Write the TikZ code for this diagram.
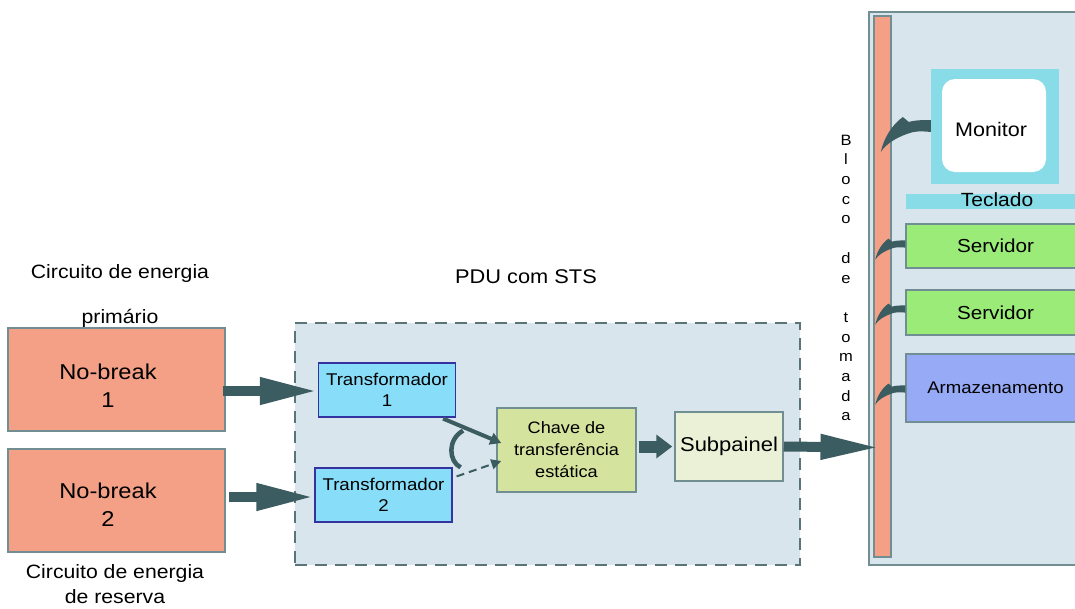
\documentclass[tikz,border=0pt]{standalone}
\usepackage{fontspec}
\setmainfont{Liberation Sans}[FakeStretch=1.1]
\usetikzlibrary{arrows.meta,calc}

\definecolor{salmon}{HTML}{F4A086}
\definecolor{panel}{HTML}{D9E5EC}
\definecolor{edge}{HTML}{718F93}
\definecolor{dashc}{HTML}{5A7477}
\definecolor{trafo}{HTML}{88DDF9}
\definecolor{trafoedge}{HTML}{3434A0}
\definecolor{switchc}{HTML}{D4E39E}
\definecolor{subc}{HTML}{EBF1D6}
\definecolor{arrowc}{HTML}{3B5C60}
\definecolor{screen}{HTML}{88DCE8}
\definecolor{server}{HTML}{9AEB78}
\definecolor{storage}{HTML}{96AAF5}

\newcommand{\fsz}[1]{\fontsize{#1}{1.2\dimexpr#1pt\relax}\selectfont}

\tikzset{
  ups/.style={draw=edge, fill=salmon, line width=1.5, minimum width=217, minimum height=103, inner sep=0},
  trafobox/.style={draw=trafoedge, fill=trafo, line width=1.2, minimum width=137, minimum height=54,
    inner sep=0, align=center, font=\fontsize{17}{21}\selectfont},
  device/.style={draw=edge, line width=1.5, minimum width=179, inner sep=0, align=center},
  label/.style={inner sep=0, align=center},
  bigarrow/.style={draw=arrowc, line width=10},
  pics/swoosh/.style={code={
    \fill[arrowc] (-28,-9) -- (-22,-4) .. controls (-16,-6) and (-6,-6) .. (0,-6)
      -- (0,6) .. controls (-9,5) and (-17,5) .. (-24,8)
      .. controls (-35,12) and (-45,18) .. (-50,26)
      .. controls (-47,12) and (-39,-1) .. (-28,-9) -- cycle;
  }}
}

\begin{document}
\begin{tikzpicture}[x=1pt, y=-1pt]
\useasboundingbox (0,0) rectangle (1075,608);
\clip (0,0) rectangle (1075,608);
\fill[white] (0,0) rectangle (1075,608);

% power sources
\node[ups] (nb1) at (116.5,379.5) {};
\node[ups] (nb2) at (116.5,500.5) {};
\node[label, font=\fontsize{21.5}{28}\selectfont] (nb1lbl) at (108,386) {No-break\\1};
\node[label, font=\fontsize{21.5}{28}\selectfont] (nb2lbl) at (108,505) {No-break\\2};
\node[label, font=\fsz{19.3}] (cap1a) at (120,274) {Circuito de energia};
\node[label, font=\fsz{19.3}] (cap1b) at (120,318) {primário};
\node[label, font=\fontsize{19.3}{25}\selectfont] (cap2) at (115,584) {Circuito de energia\\de reserva};

% PDU with static transfer switch
\node[draw=dashc, fill=panel, line width=1.8, dash pattern=on 12pt off 8pt,
      minimum width=505, minimum height=242, inner sep=0] (pdu) at (547.5,444) {};
\node[label, font=\fsz{19.8}] (pdulbl) at (526,277) {PDU com STS};

\node[trafobox] (t1) at (387,390) {Transformador\\1};
\node[trafobox] (t2) at (383.5,495) {Transformador\\2};
\node[draw=edge, fill=switchc, line width=1.5, minimum width=139, minimum height=84, inner sep=0,
      align=center, font=\fontsize{16.5}{22}\selectfont] (ch) at (566.5,450)
      {Chave de\\transferência\\estática};
\node[draw=edge, fill=subc, line width=1.5, minimum width=108, minimum height=69, inner sep=0,
      font=\fsz{20}] (sub) at (729,446.5) {Subpainel};

% rack
\node[draw=edge, fill=panel, line width=2, minimum width=216, minimum height=553, inner sep=0] (rack) at (977,288.5) {};
\node[draw=edge, fill=salmon, line width=1.5, minimum width=17, minimum height=541, inner sep=0] (strip) at (882.5,286.5) {};
\node[label, font=\fontsize{15}{19.7}\selectfont] (bloco) at (846,278)
  {B\\l\\o\\c\\o\\[19.7pt]d\\e\\[19.7pt]t\\o\\m\\a\\d\\a};

\node[fill=screen, minimum width=128, minimum height=115, inner sep=0] (mon) at (995,126.5) {};
\node[fill=white, rounded corners=13, minimum width=104, minimum height=93, inner sep=0] (scr) at (994,125.5) {};
\node[label, font=\fsz{19.6}] (monlbl) at (991,129) {Monitor};
\node[fill=screen, minimum width=179, minimum height=15, inner sep=0] (kbd) at (995.5,201.5) {};
\node[label, font=\fsz{19.1}] (kbdlbl) at (997,200) {Teclado};
\node[device, fill=server, minimum height=44, font=\fsz{18.8}] (srv1) at (995.5,246) {Servidor};
\node[device, fill=server, minimum height=45, font=\fsz{18.8}] (srv2) at (995.5,312.5) {Servidor};
\node[device, fill=storage, minimum height=68, font=\fsz{16.9}] (arm) at (995.5,388) {Armazenamento};

% power feeds into the PDU
\draw[bigarrow, -{Triangle[width=25pt,length=58pt]}] ($(nb1.east |- t1.west)+(-3,1)$) -- ($(t1.west)+(0,1)$);
\draw[bigarrow, -{Triangle[width=25pt,length=58pt]}] ($(nb2.east |- t2.west)+(3,2)$) -- ($(t2.west)+(0,2)$);

% transformers to the transfer switch
\draw[arrowc, line width=4, -{Triangle[width=12pt,length=11pt]}] ($(t1.south east)+(-13,1)$) -- ($(ch.west)+(5,-7)$);
\draw[arrowc, line width=2, dash pattern=on 8pt off 5pt, -{Triangle[width=10pt,length=10pt]}] ($(t2.north east)+(4,9)$) -- ($(ch.west)+(5,11)$);
\coordinate (swA) at ($(t1.south east)+(7,13)$);
\coordinate (swB) at ($(t2.north east)+(8,0)$);
\draw[arrowc, line width=4.5] (swA) .. controls +(-16,9) and +(-12,-6) .. (swB);

% switch to subpanel, subpanel to the outlet strip
\draw[arrowc, line width=12, -{Triangle[width=23pt,length=16pt]}] ($(ch.east |- sub.west)+(2,0)$) -- ($(sub.west)+(-2,0)$);
\draw[bigarrow, -{Triangle[width=23pt,length=60pt]}] (sub.east) -- ($(sub.east -| strip.center)+(-2,1)$);

% device power cords into the outlet strip
\pic at ($(mon.west)+(0,-0.5)$) {swoosh};
\pic[scale=0.6] at ($(srv1.west)+(0,-2)$) {swoosh};
\pic[scale=0.6] at ($(srv2.west)+(0,-3.5)$) {swoosh};
\pic[scale=0.6] at ($(arm.west)+(0,1)$) {swoosh};
\end{tikzpicture}
\end{document}
